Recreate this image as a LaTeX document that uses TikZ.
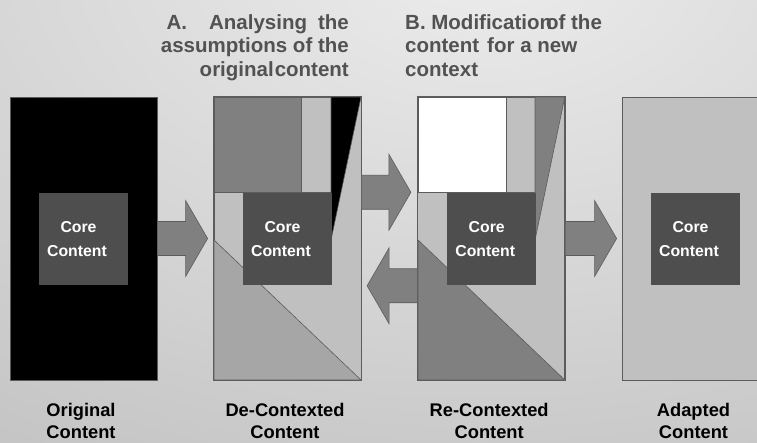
\documentclass[tikz,border=0pt]{standalone}
\usepackage{fontspec}
\setmainfont{Liberation Sans}
\usetikzlibrary{calc}
\definecolor{bgin}{RGB}{236,236,236}
\definecolor{bgout}{RGB}{158,158,158}
\definecolor{edge}{RGB}{92,92,92}
\definecolor{corefill}{RGB}{78,78,78}
\definecolor{midgray}{RGB}{128,128,128}
\definecolor{pale}{RGB}{192,192,192}
\definecolor{tri}{RGB}{166,166,166}
\definecolor{headtext}{RGB}{82,82,82}
\pgfdeclareradialshading{bgshade}{\pgfpointorigin}{color(0bp)=(bgin); color(50bp)=(bgout)}
\def\blockarrow[#1](#2)(#3){\draw[#1] let \p1=(#2), \p2=(#3), \n1={sign(\x2-\x1)} in (\x1,{\y1+17pt}) -- ({\x2-(\n1)*22pt},{\y1+17pt}) -- ({\x2-(\n1)*22pt},{\y1+38pt}) -- (\x2,\y1) -- ({\x2-(\n1)*22pt},{\y1-38pt}) -- ({\x2-(\n1)*22pt},{\y1-17pt}) -- (\x1,{\y1-17pt}) -- cycle;}
\def\coretxt{Core\hspace*{10pt}\\Content\hspace*{13pt}}

\begin{document}
\begin{tikzpicture}[x=1pt, y=-1pt,
	box/.style={draw=edge, line width=0.8pt, inner sep=0pt, minimum width=147, minimum height=283},
	core/.style={fill=corefill, inner sep=0pt, minimum width=88.5, minimum height=91.7, text=white, align=center, font=\bfseries\fontsize{15.8}{24.3}\selectfont},
	piece/.style={draw=edge, line width=0.6pt},
	flow/.style={fill=midgray, draw=edge, line width=0.6pt},
	caption/.style={align=center, font=\bfseries\fontsize{18.3}{21.7}\selectfont},
	headline/.style={inner sep=0pt, text=headtext, font=\bfseries\fontsize{20.5}{23.5}\selectfont}]
		%%%%% BACKGROUND %%%%%
		\useasboundingbox (0,0) rectangle (757,443);
		\clip (0,0) rectangle (757,443);
		\fill[bgout] (0,0) rectangle (757,443);
		\shade[shading=bgshade] (-420,-600) rectangle (1380,520);
		
		%%%%% ORIGINAL %%%%%
		\node[box, fill=black] (orig) at (83.5,238.5) {};
		\node[core] (core1) at (83.5,239.2) {\coretxt};
		
		%%%%% DE-CONTEXTED %%%%%
		\node[box, fill=pale] (decon) at (287.5,238.5) {};
		\draw[piece, fill=midgray] (214,97) rectangle (301.7,192.7);
		\draw[piece, fill=pale] (301.7,97) rectangle (331,192.7);
		\draw[piece, fill=black] (331,97) -- (361,97) -- (331,240) -- cycle;
		\draw[piece, fill=tri] (214,240) -- (361,380) -- (214,380) -- cycle;
		\node[core] (core2) at (287.5,239.2) {\coretxt};
		\draw[box] (decon.north west) rectangle (decon.south east);
		
		%%%%% RE-CONTEXTED %%%%%
		\node[box, fill=pale] (recon) at (491.3,238.5) {};
		\draw[piece, fill=white] (418,97) rectangle (506,192.7);
		\draw[piece, fill=pale] (506,97) rectangle (535,192.7);
		\draw[piece, fill=midgray] (535,97) -- (564.8,97) -- (535,240) -- cycle;
		\draw[piece, fill=midgray] (418,240) -- (564.8,380) -- (418,380) -- cycle;
		\node[core] (core3) at (491.7,239.2) {\coretxt};
		\draw[box] (recon.north west) rectangle (recon.south east);
		
		%%%%% ADAPTED %%%%%
		\node[box, fill=pale] (adapt) at (696,238.5) {};
		\node[core] (core4) at (695.5,239) {\coretxt};
		
		%%%%% ARROWS %%%%%
		\coordinate (a1s) at (orig.east);
		\coordinate (a1e) at ($(decon.west)+(-6,0)$);
		\coordinate (a2s) at (decon.east |- 0,192.3);
		\coordinate (a2e) at ($(recon.west |- 0,192.3)+(-6.5,0)$);
		\coordinate (a3s) at (recon.west |- 0,285.8);
		\coordinate (a3e) at ($(decon.east |- 0,285.8)+(5.7,0)$);
		\coordinate (a4s) at (recon.east);
		\coordinate (a4e) at ($(adapt.west)+(-5.5,0)$);
		\blockarrow[flow](a1s)(a1e)
		\blockarrow[flow](a2s)(a2e)
		\blockarrow[flow](a3s)(a3e)
		\blockarrow[flow](a4s)(a4e)
		
		%%%%% TEXT %%%%%
		\node[headline, anchor=north east, align=right] (stepA) at (349,14) {A.\hspace{22pt}Analysing\hspace{11pt}the\\assumptions of the\\original\hspace{1pt}content};
		\node[headline, anchor=north west, align=left] (stepB) at (405,14) {B. Modification\hspace{-6pt}of the\\content\hspace{8pt}for a new\\context};
		
		\node[caption] (lab1) at ($(core1 |- 0,421)+(-2.5,0)$) {Original\\Content};
		\node[caption] (lab2) at ($(core2 |- 0,421)+(-2.5,0)$) {De-Contexted\\Content};
		\node[caption] (lab3) at ($(core3 |- 0,421)+(-2.5,0)$) {Re-Contexted\\Content};
		\node[caption] (lab4) at ($(core4 |- 0,421)+(-2,0)$) {Adapted\\Content};
\end{tikzpicture}
\end{document}
